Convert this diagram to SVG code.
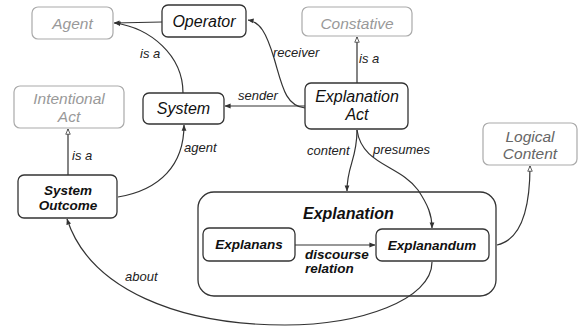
<svg xmlns="http://www.w3.org/2000/svg" width="578" height="327" viewBox="0 0 578 327">
<style>
.bg{fill:#ffffff}
.node{fill:#ffffff;stroke:#333333;stroke-width:1.3}
.gnode{fill:#ffffff;stroke:#aaaaaa;stroke-width:1.2}
.t{font-family:"Liberation Sans",Arial,sans-serif;font-style:italic;font-size:16px;fill:#111111;text-anchor:middle}
.gt{font-family:"Liberation Sans",Arial,sans-serif;font-style:italic;font-size:15.5px;fill:#999999;text-anchor:middle}
.bt{font-family:"Liberation Sans",Arial,sans-serif;font-style:italic;font-weight:bold;font-size:13.5px;fill:#111111;text-anchor:middle}
.lbl{font-family:"Liberation Sans",Arial,sans-serif;font-style:italic;font-size:13px;fill:#222222}
.edge{fill:none;stroke:#333333;stroke-width:1.2}
</style>
<defs>
<marker id="arr" viewBox="0 0 8 8" refX="7.5" refY="4" markerWidth="6" markerHeight="6" orient="auto" markerUnits="userSpaceOnUse">
<path d="M0,0.8 L8,4 L0,7.2 Z" fill="#333333"/>
</marker>
<marker id="open" viewBox="0 0 8 8" refX="7.5" refY="4" markerWidth="6" markerHeight="6" orient="auto" markerUnits="userSpaceOnUse">
<path d="M0.5,1 L7.5,4 L0.5,7 Z" fill="#ffffff" stroke="#333333" stroke-width="1"/>
</marker>
</defs>
<rect class="bg" x="0" y="0" width="578" height="327"/>

<g id="explanation">
<rect class="node" x="198" y="192" width="298" height="104" rx="16"/>
<text x="303" y="219" style="font-family:'Liberation Sans',Arial,sans-serif;font-style:italic;font-weight:bold;font-size:16px;fill:#111111">Explanation</text>
<text class="bt" x="305" y="259" style="text-anchor:start">discourse</text>
<text class="bt" x="305" y="273" style="text-anchor:start">relation</text>
</g>

<g id="connectors">
<path class="edge" d="M162 22 L114 23" marker-end="url(#arr)"/>
<path class="edge" d="M183 93 C 183 55, 150 28, 115 23" marker-end="url(#arr)"/>
<path class="edge" d="M305 108 C 285 106, 282 85, 274 58 C 266 32, 260 22, 248 20" marker-end="url(#arr)"/>
<path class="edge" d="M305 106 L225 106" marker-end="url(#arr)"/>
<path class="edge" d="M357 83 L357 37" marker-end="url(#open)"/>
<path class="edge" d="M118 197 C 160 190, 184 165, 184 125" marker-end="url(#arr)"/>
<path class="edge" d="M68 175 L68 129" marker-end="url(#open)"/>
<path class="edge" d="M357 130 C 357 160, 347 165, 347 191" marker-end="url(#arr)"/>
<path class="edge" d="M357 130 C 362 165, 400 165, 418 190 C 428 205, 432 215, 432 228" marker-end="url(#arr)"/>
<path class="edge" d="M295 245 L375 245" marker-end="url(#arr)"/>
<path class="edge" d="M497 245 C 520 240, 530 210, 530 166" marker-end="url(#open)"/>
<path class="edge" d="M432 262 C 432 300, 360 325, 285 325 C 180 325, 90 290, 67 219" marker-end="url(#arr)"/>
<text class="lbl" x="140" y="58">is a</text>
<text class="lbl" x="273" y="57">receiver</text>
<text class="lbl" x="238" y="100">sender</text>
<text class="lbl" x="359" y="63">is a</text>
<text class="lbl" x="184" y="152">agent</text>
<text class="lbl" x="72" y="160">is a</text>
<text class="lbl" x="307" y="155">content</text>
<text class="lbl" x="373" y="154">presumes</text>
<text class="lbl" x="125" y="281">about</text>
</g>

<g id="agent">
<rect class="gnode" x="32" y="7" width="81" height="32" rx="6"/>
<text class="gt" x="72.5" y="28.5">Agent</text>
</g>
<g id="operator">
<rect class="node" x="162" y="5" width="84" height="32" rx="6"/>
<text class="t" x="204" y="27">Operator</text>
</g>
<g id="constative">
<rect class="gnode" x="302" y="7" width="110" height="29" rx="6"/>
<text class="gt" x="357" y="29">Constative</text>
</g>
<g id="intentional-act">
<rect class="gnode" x="14" y="86" width="110" height="42" rx="6"/>
<text class="gt" x="69" y="104">Intentional</text>
<text class="gt" x="69" y="122">Act</text>
</g>
<g id="system">
<rect class="node" x="143" y="93" width="81" height="31" rx="6"/>
<text class="t" x="183.5" y="114">System</text>
</g>
<g id="explanation-act">
<rect class="node" x="305" y="83" width="103" height="46" rx="6"/>
<text class="t" x="357" y="102">Explanation</text>
<text class="t" x="357" y="120">Act</text>
</g>
<g id="logical-content">
<rect class="gnode" x="483" y="123" width="94" height="42" rx="6"/>
<text class="gt" x="530" y="142" style="fill:#666666">Logical</text>
<text class="gt" x="530" y="159" style="fill:#666666">Content</text>
</g>
<g id="system-outcome">
<rect class="node" x="18" y="175" width="99" height="43" rx="6"/>
<text class="bt" x="68" y="195">System</text>
<text class="bt" x="68" y="210">Outcome</text>
</g>
<g id="explanans">
<rect class="node" x="203" y="228" width="92" height="33" rx="6"/>
<text class="bt" x="249" y="249">Explanans</text>
</g>
<g id="explanandum">
<rect class="node" x="376" y="229" width="113" height="32" rx="6"/>
<text class="bt" x="432" y="250">Explanandum</text>
</g>
</svg>
